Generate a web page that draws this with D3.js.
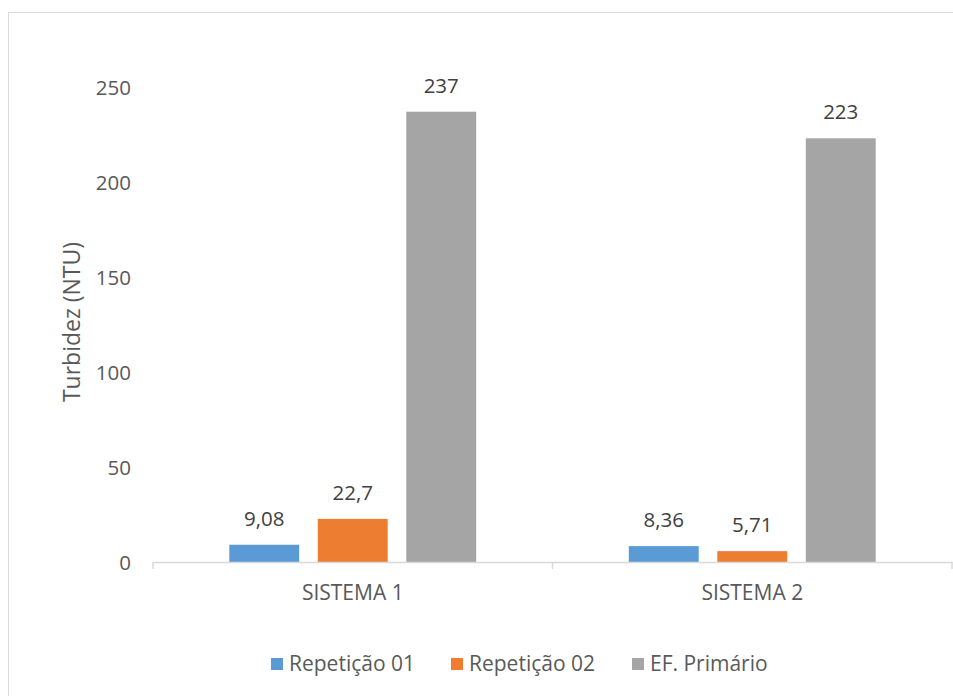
<!DOCTYPE html>
<html>
<head>
<meta charset="utf-8">
<script src="https://cdn.jsdelivr.net/npm/d3@7"></script>
<style>
  html, body { margin: 0; padding: 0; background: #fff; }
  svg text { font-family: "Open Sans", "Noto Sans", sans-serif; }
</style>
</head>
<body>
<svg id="chart" width="953" height="696"></svg>
<script>
// Turbidity per system and sample
const categories = ["SISTEMA 1", "SISTEMA 2"];
const seriesNames = ["Repetição 01", "Repetição 02", "EF. Primário"];
const repeticao01 = [9.08, 8.36];
const repeticao02 = [22.7, 5.71];
const efPrimario = [237, 223];
const yTicks = [0, 50, 100, 150, 200, 250];
const colors = ["#5B9BD5", "#ED7D31", "#A5A5A5"];

const seriesValues = [repeticao01, repeticao02, efPrimario];
const fmt = v => String(v).replace(".", ",");

const svg = d3.select("#chart");
const W = 953, H = 696;

// chart area frame
svg.append("rect")
  .attr("x", 8.5).attr("y", 12.5)
  .attr("width", W + 20).attr("height", H + 20)
  .attr("fill", "#fff").attr("stroke", "#D9D9D9").attr("stroke-width", 1);

const plot = { left: 153, right: 952, top: 87, bottom: 562 };

const x0 = d3.scaleBand().domain(categories).range([plot.left, plot.right]).padding(0);
const groupW = x0.bandwidth() * 0.618;
const x1 = d3.scaleBand().domain(seriesNames).range([0, groupW]).paddingInner(0.21).paddingOuter(0);
const y = d3.scaleLinear().domain([0, 250]).range([plot.bottom, plot.top]);

// y tick labels (no axis line, no gridlines)
const yAxis = d3.axisLeft(y).tickValues(yTicks).tickSize(0).tickPadding(0);
const gy = svg.append("g").attr("transform", `translate(${plot.left - 22},0)`).call(yAxis);
gy.select(".domain").remove();
gy.selectAll("text")
  .attr("fill", "#595959").attr("font-size", 20.5)
  .attr("dy", "0.35em");

// bars
const groups = svg.append("g").selectAll("g")
  .data(categories)
  .join("g")
  .attr("transform", d => `translate(${x0(d) + (x0.bandwidth() - groupW) / 2},0)`);

groups.selectAll("rect")
  .data((d, i) => seriesNames.map((s, j) => ({ s, v: seriesValues[j][i], c: colors[j] })))
  .join("rect")
  .attr("x", d => x1(d.s))
  .attr("width", x1.bandwidth())
  .attr("y", d => y(d.v))
  .attr("height", d => y(0) - y(d.v))
  .attr("fill", d => d.c);

groups.selectAll("text.val")
  .data((d, i) => seriesNames.map((s, j) => ({ s, v: seriesValues[j][i] })))
  .join("text")
  .attr("class", "val")
  .attr("x", d => x1(d.s) + x1.bandwidth() / 2)
  .attr("y", d => y(d.v) - 19)
  .attr("text-anchor", "middle")
  .attr("font-size", 20.5)
  .attr("fill", "#404040")
  .text(d => fmt(d.v));

// x axis
const xAxis = d3.axisBottom(x0).tickSize(0).tickPadding(0);
const gx = svg.append("g").attr("transform", `translate(0,${plot.bottom})`).call(xAxis);
gx.select(".domain").attr("stroke", "#D9D9D9").attr("stroke-width", 1.5);
gx.selectAll("text")
  .attr("fill", "#595959").attr("font-size", 21)
  .attr("dy", 0).attr("y", 38);
// category separator ticks
const bounds = [plot.left, x0(categories[1]), plot.right];
gx.selectAll("line.sep").data(bounds).join("line")
  .attr("class", "sep")
  .attr("x1", d => d).attr("x2", d => d)
  .attr("y1", 0).attr("y2", 7)
  .attr("stroke", "#D9D9D9").attr("stroke-width", 1.5);

// y axis title
svg.append("text")
  .attr("transform", `translate(80,322) rotate(-90)`)
  .attr("text-anchor", "middle")
  .attr("font-size", 23)
  .attr("fill", "#595959")
  .text("Turbidez (NTU)");

// legend
const legendX = [271, 451, 632];
const leg = svg.append("g").selectAll("g").data(seriesNames).join("g")
  .attr("transform", (d, i) => `translate(${legendX[i]},664)`);
leg.append("rect").attr("x", 0).attr("y", -6).attr("width", 12).attr("height", 12)
  .attr("fill", (d, i) => colors[i]);
leg.append("text").attr("x", 18).attr("y", 0).attr("dy", "0.35em")
  .attr("font-size", 21).attr("fill", "#595959").text(d => d);
</script>
</body>
</html>
